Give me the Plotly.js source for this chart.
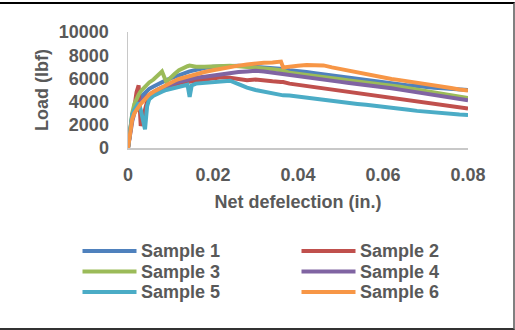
<!DOCTYPE html>
<html>
<head>
<meta charset="utf-8">
<script src="https://cdn.plot.ly/plotly-3.0.1.min.js"></script>
<style>
html,body{margin:0;padding:0;background:#fff;overflow:hidden;}
#wrap{position:relative;width:515px;height:330px;}
#chart{position:absolute;left:0;top:0;width:515px;height:330px;}
#frame{position:absolute;left:0;top:2px;width:515px;height:328px;box-sizing:border-box;
  border-top:2px solid #000;border-right:2px solid #808080;border-bottom:2px solid #333;pointer-events:none;}
</style>
</head>
<body>
<div id="wrap"><div id="chart"></div><div id="frame"></div></div>
<script>
// Net deflection (in.) sample positions shared by all series
const deflection = [0,0.0005,0.001,0.0015,0.002,0.0025,0.003,0.0035,0.004,0.0045,
  0.005,0.006,0.007,0.008,0.009,0.010,0.011,0.012,0.013,0.014,
  0.0145,0.015,0.016,0.018,0.020,0.022,0.024,0.026,0.028,0.030,
  0.032,0.034,0.036,0.0365,0.038,0.040,0.042,0.044,0.046,0.048,
  0.050,0.052,0.054,0.056,0.058,0.060,0.062,0.064,0.066,0.068,
  0.070,0.072,0.074,0.076,0.078,0.080];

// Load (lbf)
const sample1 = [0,1600,2800,3500,3900,4200,4400,4600,4800,4950,
  5100,5300,5500,5700,5850,6000,6150,6300,6450,6550,
  6600,6650,6750,6900,7000,7050,7100,7100,7050,7000,
  6950,6900,6850,6820,6700,6650,6550,6450,6350,6250,
  6150,6050,5950,5850,5750,5650,5550,5500,5400,5350,
  5250,5200,5150,5100,5050,5000];
const sample2 = [0,1500,2700,3500,4800,5400,1900,2600,3400,4000,
  4300,4600,4900,5100,5200,5350,5500,5600,5650,5700,
  5720,5750,5850,5950,6000,6100,6050,5950,5850,5900,
  5800,5750,5700,5690,5550,5450,5350,5250,5150,5050,
  4950,4850,4750,4600,4500,4400,4300,4200,4100,4000,
  3900,3800,3700,3600,3500,3400];
const sample3 = [0,1800,3000,3800,4300,4600,4900,5100,5300,5500,
  5650,5900,6200,6600,5700,6100,6400,6700,6900,7050,
  7100,7050,7000,7000,7050,7050,7100,7050,7000,6900,
  6850,6800,6700,6680,6480,6400,6300,6200,6100,6000,
  5920,5830,5750,5680,5600,5500,5400,5280,5150,5030,
  4900,4780,4650,4530,4400,4300];
const sample4 = [0,1200,2300,3000,3500,3800,4000,4200,4350,4500,
  4600,4850,5050,5200,5350,5500,5600,5700,5800,5900,
  5950,6000,6050,6150,6250,6400,6500,6550,6600,6650,
  6600,6500,6380,6350,6220,6120,6030,5950,5860,5780,
  5700,5610,5530,5450,5350,5250,5150,5030,4920,4800,
  4680,4560,4450,4340,4230,4120];
const sample5 = [0,1800,2900,3300,3600,3900,3300,2200,1600,3600,
  4200,4500,4700,4850,5000,5100,5200,5300,5350,5450,
  4400,5400,5550,5600,5650,5750,5800,5500,5200,5000,
  4850,4650,4550,4540,4520,4420,4320,4220,4130,4050,
  3970,3880,3800,3720,3650,3580,3500,3420,3300,3200,
  3120,3050,2990,2930,2880,2850];
const sample6 = [0,1500,2500,3000,3300,3600,3800,4000,4200,4400,
  4600,4850,5050,5250,5450,5650,5800,5950,6050,6150,
  6200,6300,6400,6550,6700,6850,6950,7100,7200,7300,
  7350,7380,7450,6950,7050,7100,7150,7150,7120,6950,
  6800,6650,6500,6350,6200,6050,5950,5850,5750,5650,
  5550,5420,5300,5170,5050,4950];

const seriesNames = ['Sample 1','Sample 2','Sample 3','Sample 4','Sample 5','Sample 6'];
const seriesColors = ['#4F81BD','#C0504D','#9BBB59','#8064A2','#4BACC6','#F79646'];
const seriesValues = [sample1,sample2,sample3,sample4,sample5,sample6];

const xTickVals = [0,0.02,0.04,0.06,0.08];
const xTickText = ['0','0.02','0.04','0.06','0.08'];
const yTickVals = [0,2000,4000,6000,8000,10000];
const yTickText = ['0','2000','4000','6000','8000','10000'];

const FONT = {family:'"Liberation Sans", Arial, sans-serif', size:18, color:'#595959', weight:700};
const M = {l:128, r:47, t:32, b:182};
const plotW = 515 - M.l - M.r, plotH = 330 - M.t - M.b;
const px2x = px => (px - M.l) / plotW;
const py2y = py => (330 - M.b - py) / plotH;

const traces = seriesValues.map((v,i)=>({
  x: deflection, y: v, type:'scatter', mode:'lines', name: seriesNames[i],
  line:{color:seriesColors[i], width:4}, showlegend:false, hoverinfo:'skip'
}));

// manual legend (two columns, three rows)
const legRows = [251, 271.5, 292];
const legCols = [{l0:82.5,l1:136.5,t:140}, {l0:301.5,l1:355.5,t:359}];
const shapes = [], annotations = [];
seriesNames.forEach((n,i)=>{
  const r = Math.floor(i/2), c = i%2, col = legCols[c], y = py2y(legRows[r]);
  shapes.push({type:'line', xref:'paper', yref:'paper', x0:px2x(col.l0), x1:px2x(col.l1), y0:y, y1:y,
    line:{color:seriesColors[i], width:4}});
  annotations.push({xref:'paper', yref:'paper', x:px2x(col.t), y:y, xanchor:'left', yanchor:'middle',
    text:n, showarrow:false, font:FONT, borderpad:0});
});

const layout = {
  width:515, height:330, margin:M, paper_bgcolor:'#fff', plot_bgcolor:'#fff',
  font:FONT,
  xaxis:{range:[0,0.08], tickvals:xTickVals, ticktext:xTickText, showgrid:false, zeroline:false,
    showline:true, linecolor:'#c8c8c8', linewidth:1.5, ticks:'', ticklabelstandoff:10,
    tickfont:FONT, title:{text:'Net defelection (in.)', font:FONT, standoff:11}},
  yaxis:{range:[0,10000], tickvals:yTickVals, ticktext:yTickText, showgrid:false, zeroline:false,
    showline:true, linecolor:'#c8c8c8', linewidth:1.5, ticks:'', ticklabelstandoff:14,
    tickfont:FONT, title:{text:'Load (lbf)', font:FONT, standoff:5}},
  shapes:shapes, annotations:annotations
};
Plotly.newPlot('chart', traces, layout, {displayModeBar:false, staticPlot:true});
</script>
</body>
</html>
